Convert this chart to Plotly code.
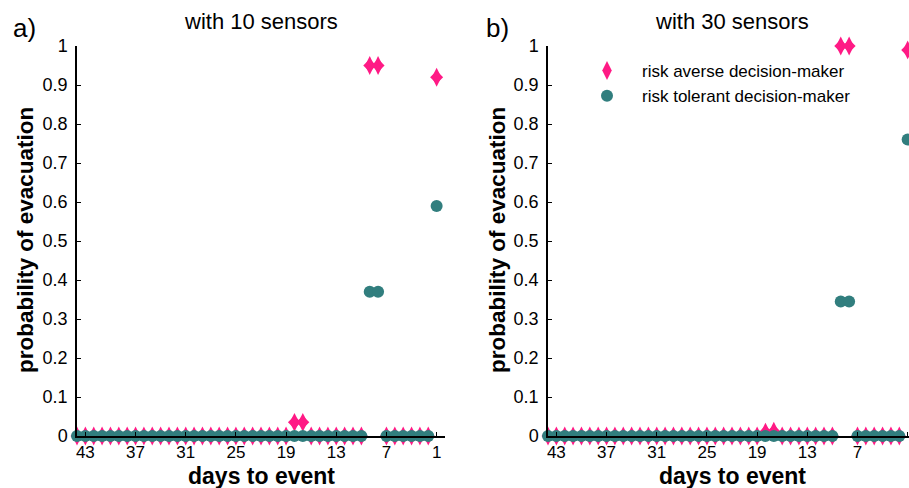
import plotly.graph_objects as go

# ---- data ----
days = list(range(44, 0, -1))  # 44 ... 1

averse_10 = [0.0]*26 + [0.035, 0.035] + [0.0]*7 + [0.95, 0.95] + [0.0]*6 + [0.92]
tolerant_10 = [0.0]*35 + [0.37, 0.37] + [0.0]*6 + [0.59]

averse_30 = [0.0]*26 + [0.01, 0.012] + [0.0]*7 + [1.0, 1.0] + [0.0]*6 + [0.99]
tolerant_30 = [0.0]*35 + [0.345, 0.345] + [0.0]*6 + [0.76]

x_ticks = [43, 37, 31, 25, 19, 13, 7, 1]
y_ticks = [0, 0.1, 0.2, 0.3, 0.4, 0.5, 0.6, 0.7, 0.8, 0.9, 1]
y_tick_text = ["0", "0.1", "0.2", "0.3", "0.4", "0.5", "0.6", "0.7", "0.8", "0.9", "1"]

PINK = "#FF1A85"
TEAL = "#317E7E"
FONT = "Liberation Sans, Arial, sans-serif"
W, H = 909, 488

fig = go.Figure()

def add_panel(averse, tolerant, xa, ya, legend):
    fig.add_trace(go.Scatter(
        x=days, y=averse, mode="markers", name="risk averse decision-maker",
        marker=dict(symbol="diamond-tall", size=13.5, color=PINK, line=dict(width=0)),
        xaxis=xa, yaxis=ya, showlegend=legend, cliponaxis=False))
    fig.add_trace(go.Scatter(
        x=days, y=averse, mode="markers", name="risk averse decision-maker",
        marker=dict(symbol="diamond", size=10, color=PINK, line=dict(width=0)),
        xaxis=xa, yaxis=ya, showlegend=False, cliponaxis=False))
    fig.add_trace(go.Scatter(
        x=days, y=tolerant, mode="markers", name="risk tolerant decision-maker",
        marker=dict(symbol="circle", size=12, color=TEAL, line=dict(width=0)),
        xaxis=xa, yaxis=ya, showlegend=legend, cliponaxis=False))

add_panel(averse_10, tolerant_10, "x", "y", False)
add_panel(averse_30, tolerant_30, "x2", "y2", True)

y_dom = [(H - 436) / H, (H - 46) / H]

xcommon = dict(tickvals=x_ticks, ticktext=[str(t) for t in x_ticks],
               ticks="inside", ticklen=4, tickcolor="black",
               showline=True, linecolor="black", linewidth=1.5,
               showgrid=False, zeroline=False, automargin=False,
               ticklabelstandoff=0,
               tickfont=dict(family=FONT, size=17, color="black"))
ycommon = dict(range=[0, 1], tickvals=y_ticks, ticktext=y_tick_text,
               ticks="inside", ticklen=4, tickcolor="black",
               showline=True, linecolor="black", linewidth=1.5,
               showgrid=False, zeroline=False, domain=y_dom, automargin=False,
               ticklabelstandoff=4,
               tickfont=dict(family=FONT, size=18, color="black"))

fig.update_layout(
    width=W, height=H,
    margin=dict(l=0, r=0, t=0, b=0, autoexpand=False),
    paper_bgcolor="white", plot_bgcolor="white",
    xaxis=dict(domain=[77 / W, 445 / W], range=[44, 0], anchor="y", **xcommon),
    yaxis=dict(anchor="x", **ycommon),
    xaxis2=dict(domain=[548 / W, 1.0], range=[44, 0.84], anchor="y2", **xcommon),
    yaxis2=dict(anchor="x2", **ycommon),
    showlegend=True,
    legend=dict(x=572 / W, y=(H - 53) / H, xanchor="left", yanchor="top",
                bgcolor="rgba(0,0,0,0)", itemwidth=60, tracegroupgap=0,
                font=dict(family=FONT, size=17, color="black")),
)

ann = []
def txt(x, y, s, size, bold=False, angle=0):
    ann.append(dict(x=x / W, y=(H - y) / H, xref="paper", yref="paper",
                    text=("<b>%s</b>" % s) if bold else s, showarrow=False,
                    xanchor="center", yanchor="middle", textangle=angle,
                    font=dict(family=FONT, size=size, color="black")))

txt(261, 22, "with 10 sensors", 22)
txt(732, 22, "with 30 sensors", 22)
txt(24, 28, "a)", 26)
txt(498, 28, "b)", 26)
txt(261, 476, "days to event", 23, bold=True)
txt(732, 476, "days to event", 23, bold=True)
txt(25, 240, "probability of evacuation", 22.5, bold=True, angle=-90)
txt(497, 240, "probability of evacuation", 22.5, bold=True, angle=-90)
fig.update_layout(annotations=ann)

fig.write_html("out.html")
